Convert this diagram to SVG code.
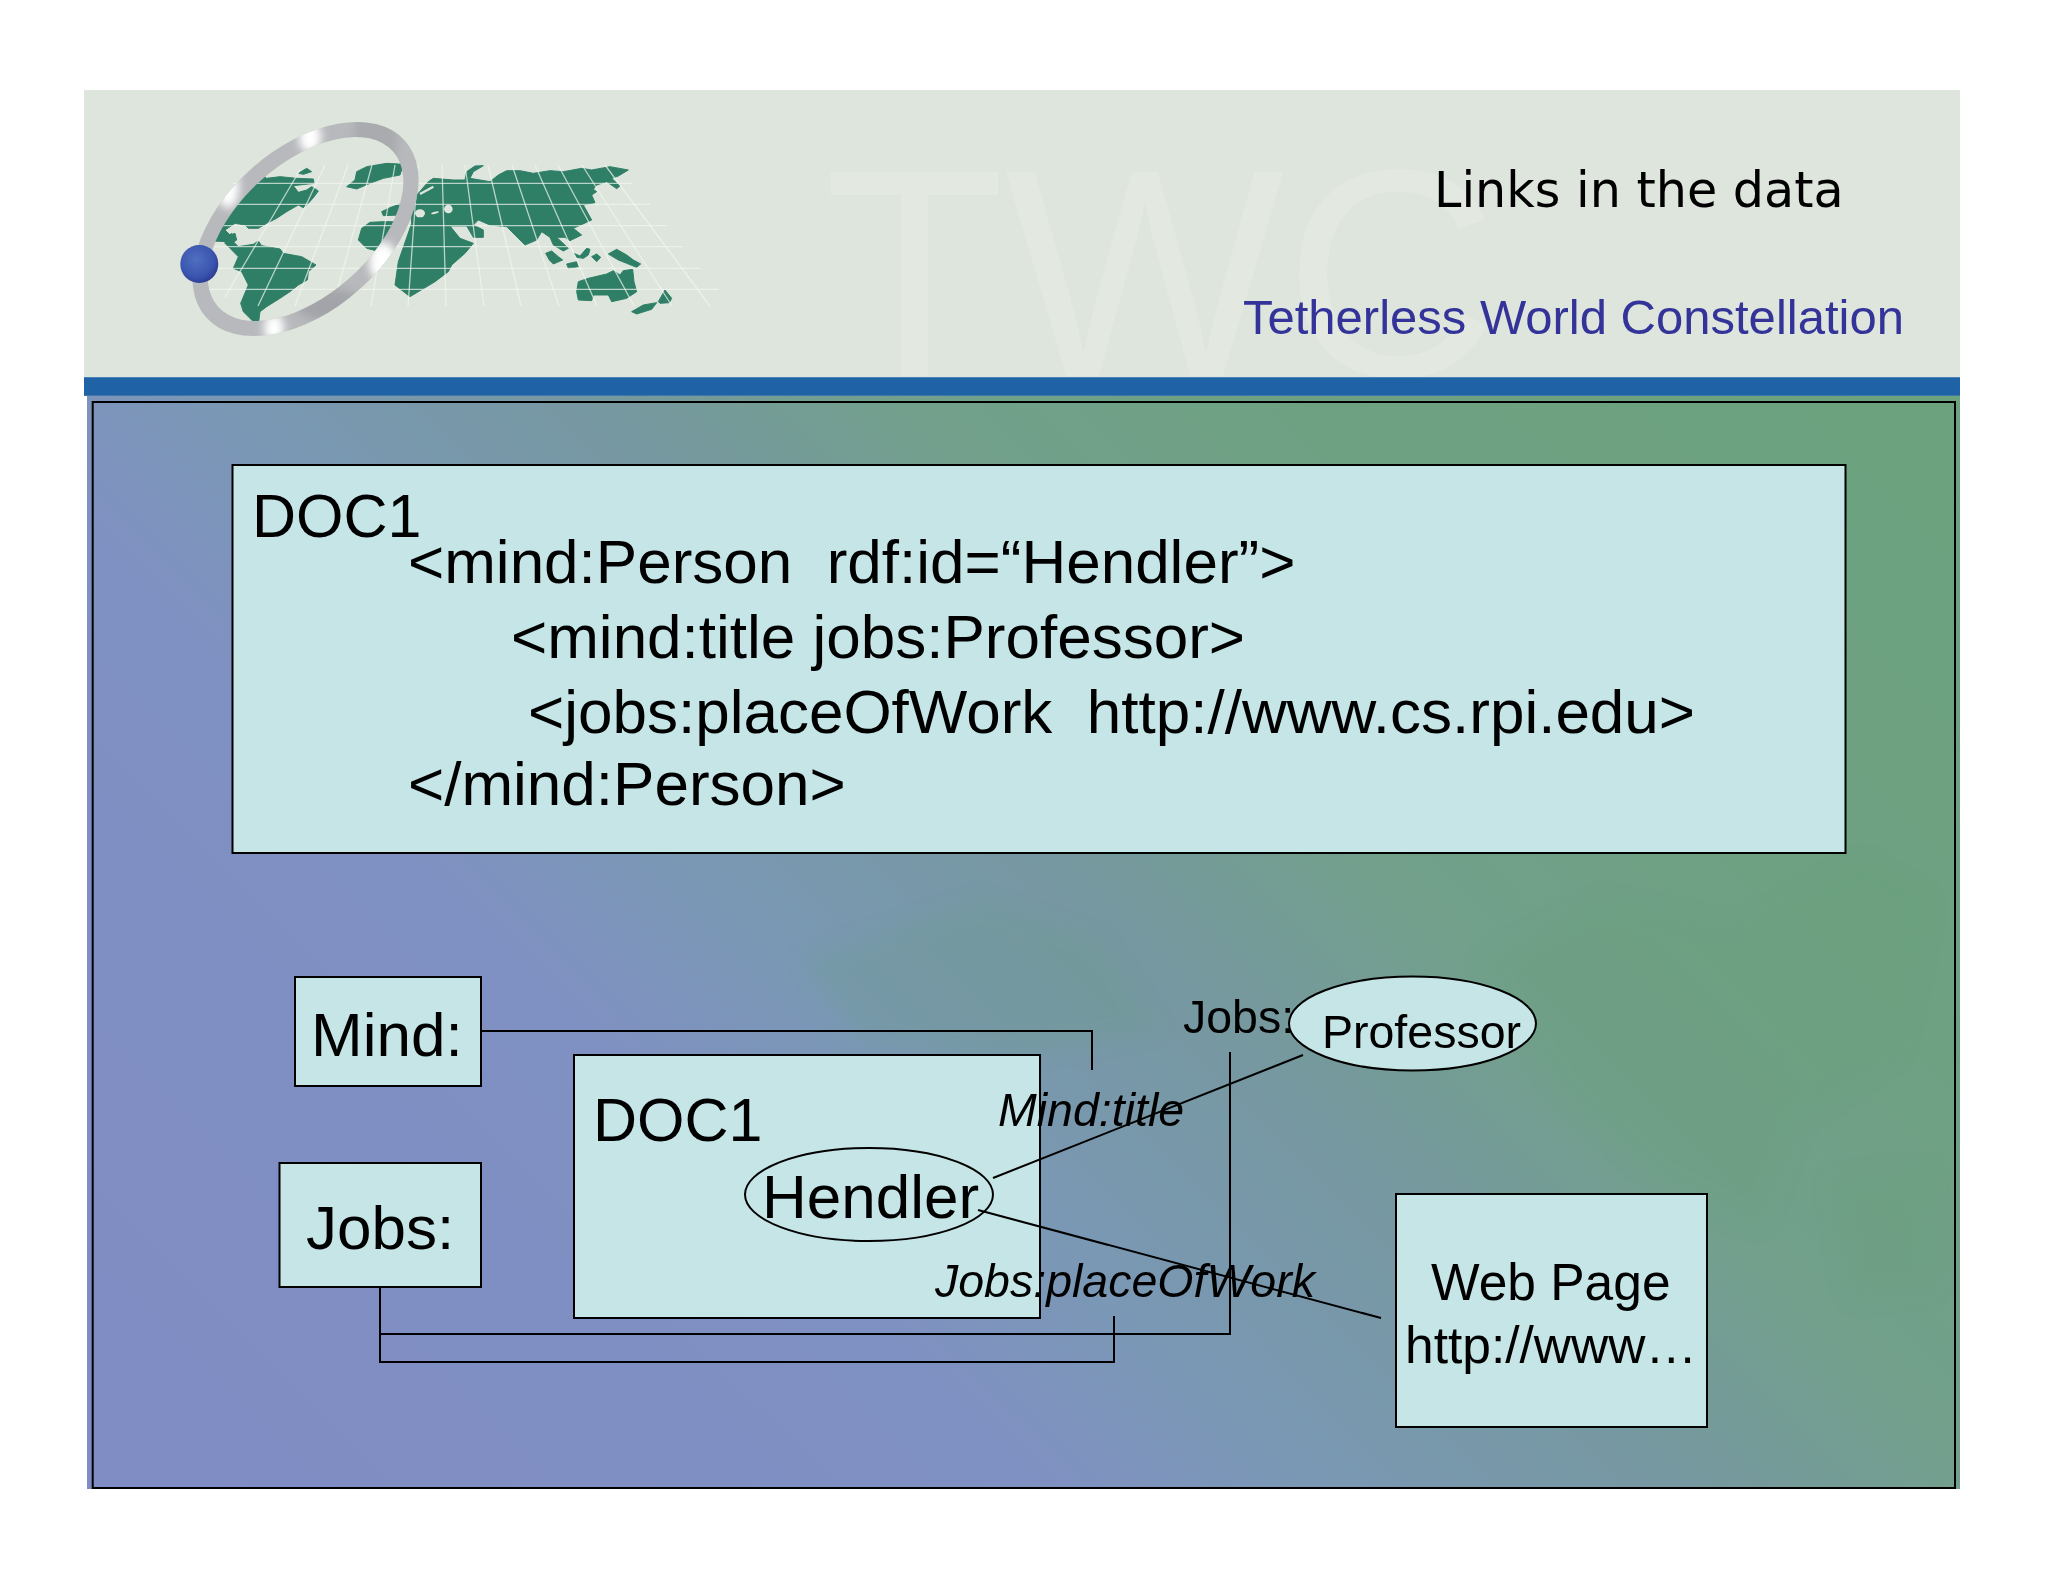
<svg xmlns="http://www.w3.org/2000/svg" width="2048" height="1582" viewBox="0 0 2048 1582">
<style>
text{font-family:"Liberation Sans",Arial,sans-serif;fill:#000;white-space:pre}
.box{fill:#c5e5e7;stroke:#000;stroke-width:2}
.conn{fill:none;stroke:#000;stroke-width:2}
.land{fill:#2e7f66;stroke:#2e7f66;stroke-width:3;stroke-linejoin:round}
.hole{fill:#dfe6dd;stroke:none}
.grid{stroke:#f3f6f1;stroke-width:1.3;opacity:.7;fill:none}
.bgmap{fill:#5f9a70;opacity:.16}
.t62{font-size:62px}.t61{font-size:61px}.i46{font-size:46.500px;font-style:italic}.t46{font-size:46.500px}.t51{font-size:51.500px}
</style>
<defs>
<linearGradient id="bg" gradientUnits="userSpaceOnUse" x1="0" y1="1400" x2="1480" y2="-80">
<stop offset="0" stop-color="#808cc4"/><stop offset=".32" stop-color="#7f90c2"/><stop offset=".415" stop-color="#7a98b4"/><stop offset=".547" stop-color="#76989f"/><stop offset=".642" stop-color="#72a08c"/><stop offset=".777" stop-color="#6ea182"/><stop offset="1" stop-color="#6ca27e"/>
</linearGradient>
<linearGradient id="bar" x1="0" y1="0" x2="0" y2="1">
<stop offset="0" stop-color="#5d8fc0"/><stop offset=".08" stop-color="#1f63a6"/><stop offset=".92" stop-color="#1f63a6"/><stop offset="1" stop-color="#4b7fa8"/>
</linearGradient>
<radialGradient id="ball" cx=".42" cy=".38" r=".65">
<stop offset="0" stop-color="#4f6fc0"/><stop offset=".7" stop-color="#3a55ae"/><stop offset="1" stop-color="#2b3b92"/>
</radialGradient>
<filter id="soft" x="-60%" y="-60%" width="220%" height="220%"><feGaussianBlur stdDeviation="4"/></filter>
<filter id="soft2" x="-30%" y="-30%" width="160%" height="160%"><feGaussianBlur stdDeviation="10"/></filter>
<filter id="tiny" x="-5%" y="-5%" width="110%" height="110%"><feGaussianBlur stdDeviation=".6"/></filter>
<clipPath id="ringClip"><path clip-rule="evenodd" transform="translate(305.500 229) rotate(-41.600)" d="M-133 0a133 81 0 1 0 266 0a133 81 0 1 0 -266 0zM-117 0a117 66 0 1 0 234 0a117 66 0 1 0 -234 0z"/></clipPath>
</defs>
<rect width="2048" height="1582" fill="#fff"/>
<g id="header">
<rect x="84" y="90" width="1876" height="287" fill="#dde5dc"/>
<text x="824" y="376" style="font-size:296px;fill:#e3e8e1">TWC</text>
</g>
<g id="logo">
<g filter="url(#tiny)">
<g transform="translate(170 115) scale(.33333)" class="land">
<path d="M275 178L290 190L330 185L380 190L430 192L432 205L370 212L385 232L410 225L425 215L445 228L430 248L415 265L400 278L385 270L350 290L320 310L290 325L265 340L235 340L225 330L195 325L165 345L180 360L195 355L200 375L185 385L175 380L125 378L160 320L200 260L235 205Z"/>
<path d="M385 175L410 160L425 170L400 178Z"/>
<path d="M165 370L185 355L190 380L205 395L250 388L265 378L275 392L330 402L340 415L395 425L438 450L415 470L412 495L385 510L360 530L330 550L290 575L270 590L265 628L250 620L220 590L212 565L235 510L215 470L190 460L205 425L180 400L165 385Z"/>
<path d="M530 215L555 195L560 170L590 155L650 145L700 148L690 180L640 190L600 205L560 222Z"/>
<path d="M565 375L575 340L600 322L640 320L695 320L660 400L630 410L590 400Z"/>
<path d="M635 290L660 278L695 265L690 300L640 302Z"/>
</g>
<g transform="translate(410 150) scale(.33333)" class="land">
<path d="M25 130L55 95L70 85L130 90L165 90L170 65L195 48L220 47L190 65L180 85L240 95L265 75L290 62L330 62L370 70L420 62L460 65L515 55L545 60L600 50L655 60L625 78L605 85L630 108L620 116L590 95L560 105L550 118L560 125L545 135L555 158L520 165L545 210L490 235L515 255L480 272L465 262L440 262L475 295L460 303L430 285L420 262L395 245L380 270L345 285L315 255L290 230L240 225L205 210L190 225L220 240L220 262L190 262L170 228L120 228L150 265L190 280L165 310L125 345L115 365L75 395L0 440L-45 405L-35 335L5 220L0 150Z"/>
<path d="M407 310L425 303L445 320L458 330L430 342L418 330Z"/>
<path d="M470 342L500 335L505 350L475 355Z"/>
<path d="M492 310L510 318L530 295L540 298L535 315L520 325L500 322Z"/>
<path d="M545 320L560 312L572 322L560 335Z"/>
<path d="M595 312L620 298L650 315L670 330L692 342L680 352L650 340L625 330Z"/>
<path d="M505 395L535 385L590 372L610 362L630 375L640 362L668 358L672 395L680 425L650 445L605 455L595 435L550 435L545 452L505 450L500 425Z"/>
<path d="M665 485L700 465L740 458L725 478L680 492Z"/>
<path d="M745 455L765 420L785 445L778 458L750 460Z"/>
<circle class="hole" cx="115" cy="177" r="13"/>
<ellipse class="hole" cx="30" cy="190" rx="15" ry="12"/>
<ellipse class="hole" cx="75" cy="188" rx="12" ry="3" transform="rotate(-15 75 188)"/>
<path d="M30 132L70 110" stroke="#dfe6dd" stroke-width="7" fill="none"/>
</g>
<path class="grid" d="M233 183.300H632M223 204.300H650M213 225.700H667M212 246.700H683M203 268.300H700M203 289.300H719"/>
<path class="grid" d="M300 170L225 297M325 165L258 306M348 165L295 306M372 165L333 306M395 165L371 306M418 165L408 306M442 165L446 306M465 165L484 306M488 165L521 306M512 165L559 306M535 165L597 306M558 165L634 306M582 165L672 306M605 165L710 306"/>
</g>
<path fill="#b7b9bc" fill-rule="evenodd" transform="translate(305.500 229) rotate(-41.600)" d="M-133 0a133 81 0 1 0 266 0a133 81 0 1 0 -266 0zM-117 0a117 66 0 1 0 234 0a117 66 0 1 0 -234 0z"/>
<g clip-path="url(#ringClip)">
<g filter="url(#soft)" fill="#fff">
<ellipse cx="310" cy="137" rx="11" ry="16"/>
<ellipse cx="228" cy="188" rx="11" ry="20"/>
<ellipse cx="274" cy="328" rx="10" ry="14"/>
<ellipse cx="383" cy="262" rx="14" ry="20"/>
</g>
<ellipse cx="375" cy="140" rx="22" ry="40" fill="#94969b" opacity=".4" filter="url(#soft)"/>
<ellipse cx="330" cy="305" rx="34" ry="16" fill="#8b8d92" opacity=".45" filter="url(#soft)"/>
</g>
<circle cx="199.300" cy="264" r="19" fill="url(#ball)"/>
</g>
<text id="title" x="1434" y="207" style="font-family:'DejaVu Sans',sans-serif;font-size:49.200px">Links in the data</text>
<text id="subtitle" x="1243" y="333.500" style="font-size:49px;fill:#333399">Tetherless World Constellation</text>
<rect x="84" y="377" width="1876" height="19" fill="url(#bar)"/>
<rect x="87" y="396" width="1873" height="1093" fill="url(#bg)"/>
<g id="bgmap" filter="url(#soft2)">
<path class="bgmap" d="M1480 960L1600 900L1740 930L1860 860L1930 900L1900 1050L1800 1120L1760 1230L1660 1180L1560 1090Z"/>
<path class="bgmap" d="M1830 1180L1930 1170L1935 1290L1850 1300Z"/>
<path class="bgmap" d="M800 960L980 900L1100 940L1160 1030L1000 1060L860 1040Z"/>
</g>
<rect id="frame" x="92.700" y="402" width="1862.300" height="1086" fill="none" stroke="#000" stroke-width="2"/>
<g id="doc-main">
<rect class="box" x="232.500" y="465" width="1613" height="388"/>
<text class="t61" x="252" y="536.500">DOC1</text>
<text class="t62" x="408" y="583">&lt;mind:Person  rdf:id=“Hendler”&gt;</text>
<text class="t62" x="511" y="657.500">&lt;mind:title jobs:Professor&gt;</text>
<text class="t62" x="528" y="733">&lt;jobs:placeOfWork  http://www.cs.rpi.edu&gt;</text>
<text class="t62" x="408" y="805">&lt;/mind:Person&gt;</text>
</g>
<g id="mind"><rect class="box" x="295" y="977" width="186" height="109"/><text class="t62" x="311" y="1056">Mind:</text></g>
<g id="jobs"><rect class="box" x="279.500" y="1163" width="201.500" height="124"/><text class="t62" x="306" y="1249">Jobs:</text></g>
<g id="doc-small"><rect class="box" x="574" y="1055" width="466" height="263"/><text class="t61" x="593" y="1141">DOC1</text></g>
<g id="hendler"><ellipse class="box" cx="869" cy="1194.500" rx="124" ry="46.500"/><text class="t62" x="762" y="1218">Hendler</text></g>
<text id="label-jobs" class="t46" x="1183" y="1033">Jobs:</text>
<g id="professor"><ellipse class="box" cx="1412.500" cy="1023.500" rx="123.500" ry="47"/><text class="t46" x="1322" y="1048">Professor</text></g>
<g id="webpage"><rect class="box" x="1396" y="1194" width="311" height="233"/><text class="t51" x="1431" y="1300">Web Page</text><text class="t51" x="1405" y="1363">http://www…</text></g>
<text id="label-title" class="i46" x="998" y="1126">Mind:title</text>
<text id="label-place" class="i46" x="935" y="1297">Jobs:placeOfWork</text>
<g id="connectors">
<path class="conn" d="M481 1031H1092V1070"/>
<path class="conn" d="M380 1287V1362H1114V1316"/>
<path class="conn" d="M380 1334H1230V1052"/>
<path class="conn" d="M993 1178L1303 1055"/>
<path class="conn" d="M978 1210L1381 1318"/>
</g>
</svg>
